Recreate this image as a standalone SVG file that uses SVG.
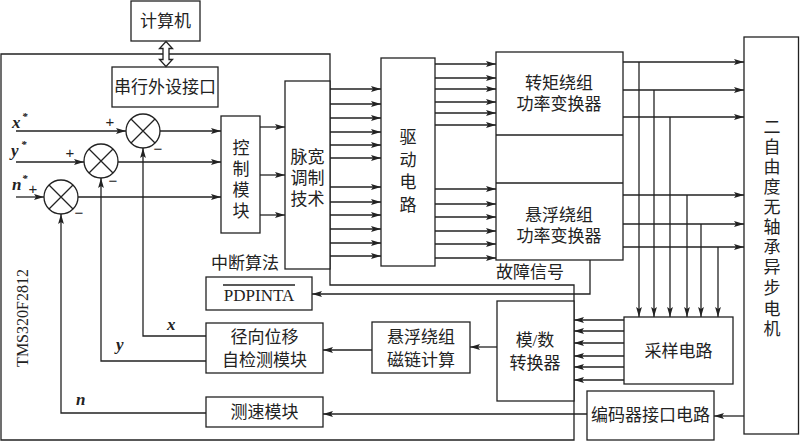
<svg xmlns="http://www.w3.org/2000/svg" width="800" height="442" viewBox="0 0 800 442">
<style>
.b{fill:#fff;stroke:#222;stroke-width:1.3}
.l{fill:none;stroke:#222;stroke-width:1.3}
.a{fill:none;stroke:#222;stroke-width:1.3;marker-end:url(#ah)}
.t{font-family:"Liberation Serif","Noto Sans CJK SC",serif;font-size:17px;fill:#222;text-anchor:middle;dominant-baseline:central}
.v{font-family:"Liberation Serif","Noto Sans CJK SC",serif;font-size:17px;fill:#222;text-anchor:middle;dominant-baseline:central}
.m{font-family:"Liberation Serif",serif;font-size:17px;font-weight:bold;font-style:italic;fill:#222}
.s{font-family:"Liberation Sans",sans-serif;font-size:15px;fill:#222;text-anchor:middle;dominant-baseline:central}
</style>
<defs>
<marker id="ah" markerWidth="10" markerHeight="7" refX="10" refY="3.5" orient="auto" markerUnits="userSpaceOnUse">
<path d="M0,0.6 L10,3.5 L0,6.4 L2,3.5z" fill="#222"/>
</marker>
</defs>
<rect width="800" height="442" fill="#fff"/>

<g id="tms">
<path class="l" d="M1,54 H330 V285 H574 V440 H1 Z"/>
<text class="t" transform="translate(22,318) rotate(-90)" style="font-size:16px">TMS320F2812</text>
</g>

<g id="computer">
<rect class="b" x="131" y="1" width="69" height="40"/>
<text class="t" x="165.5" y="21">计算机</text>
</g>

<g id="sci">
<rect class="b" x="112" y="67" width="106" height="40"/>
<text class="t" x="165" y="87">串行外设接口</text>
</g>

<g id="sum-x">
<circle class="b" cx="143" cy="131" r="17"/>
<path class="l" d="M131,119 L155,143 M155,119 L131,143"/>
</g>
<g id="sum-y">
<circle class="b" cx="101" cy="161" r="17"/>
<path class="l" d="M89,149 L113,173 M113,149 L89,173"/>
</g>
<g id="sum-n">
<circle class="b" cx="61" cy="197" r="17"/>
<path class="l" d="M49,185 L73,209 M73,185 L49,209"/>
</g>

<g id="control">
<rect class="b" x="221" y="116" width="39" height="117"/>
<text class="v" x="241"><tspan x="241" y="148">控</tspan><tspan x="241" y="169">制</tspan><tspan x="241" y="190">模</tspan><tspan x="241" y="211">块</tspan></text>
</g>

<g id="pwm">
<rect class="b" x="285" y="81" width="45" height="188"/>
<text class="t"><tspan x="307.5" y="157">脉宽</tspan><tspan x="307.5" y="178">调制</tspan><tspan x="307.5" y="199">技术</tspan></text>
</g>

<g id="drive">
<rect class="b" x="381" y="58" width="54" height="208"/>
<text class="v"><tspan x="408" y="137">驱</tspan><tspan x="408" y="159.5">动</tspan><tspan x="408" y="182">电</tspan><tspan x="408" y="204.5">路</tspan></text>
</g>

<g id="converters">
<rect class="b" x="496" y="52" width="127" height="208"/>
<path class="l" d="M496,135 H623 M496,183 H623"/>
<text class="t"><tspan x="559" y="83">转矩绕组</tspan><tspan x="559" y="104">功率变换器</tspan></text>
<text class="t"><tspan x="559" y="215">悬浮绕组</tspan><tspan x="559" y="236">功率变换器</tspan></text>
</g>

<g id="motor">
<rect class="b" x="744" y="37" width="54.5" height="397"/>
<text class="v"><tspan x="772" y="127">二</tspan><tspan x="772" y="147">自</tspan><tspan x="772" y="167">由</tspan><tspan x="772" y="187">度</tspan><tspan x="772" y="207">无</tspan><tspan x="772" y="227">轴</tspan><tspan x="772" y="247">承</tspan><tspan x="772" y="267">异</tspan><tspan x="772" y="288">步</tspan><tspan x="772" y="309">电</tspan><tspan x="772" y="329">机</tspan></text>
</g>

<g id="pdpinta">
<rect class="b" x="206" y="277" width="106" height="33"/>
<text class="t" x="259" y="295">PDPINTA</text>
<line class="l" x1="223" y1="285" x2="295" y2="285" stroke-width="1.2"/>
</g>

<g id="radial">
<rect class="b" x="206" y="323" width="117" height="50"/>
<text class="t"><tspan x="264.5" y="337">径向位移</tspan><tspan x="264.5" y="360">自检测模块</tspan></text>
</g>

<g id="speed">
<rect class="b" x="206" y="397" width="117" height="30"/>
<text class="t" x="264.5" y="412">测速模块</text>
</g>

<g id="flux">
<rect class="b" x="372" y="322" width="98" height="51"/>
<text class="t"><tspan x="421" y="337">悬浮绕组</tspan><tspan x="421" y="360">磁链计算</tspan></text>
</g>

<g id="adc">
<rect class="b" x="497" y="301" width="77" height="100"/>
<text class="t"><tspan x="535" y="340">模/数</tspan><tspan x="535" y="363">转换器</tspan></text>
</g>

<g id="sampling">
<rect class="b" x="624" y="317" width="109" height="67"/>
<text class="t" x="678.5" y="351">采样电路</text>
</g>

<g id="encoder">
<rect class="b" x="587" y="391" width="127" height="49"/>
<text class="t" x="650.5" y="415.5">编码器接口电路</text>
</g>

<g id="labels">
<text class="t" x="245" y="263">中断算法</text>
<text class="t" x="530" y="272">故障信号</text>
<text class="m" x="12" y="128">x</text><text class="m" x="22" y="120" style="font-size:11px">*</text>
<text class="m" x="11" y="156">y</text><text class="m" x="21" y="148" style="font-size:11px">*</text>
<text class="m" x="12" y="190">n</text><text class="m" x="22" y="182" style="font-size:11px">*</text>
<text class="s" x="110" y="121">+</text>
<text class="s" x="70" y="152">+</text>
<text class="s" x="33" y="188">+</text>
<text class="s" x="158" y="148">−</text>
<text class="s" x="113" y="180">−</text>
<text class="s" x="79" y="212">−</text>
<text class="m" x="167" y="330">x</text>
<text class="m" x="116" y="350">y</text>
<text class="m" x="76" y="405">n</text>
</g>

<g id="connectors">
<polygon class="b" points="166,41.5 172.5,48.5 169,48.5 169,59.5 172.5,59.5 166,66.5 159.5,59.5 163,59.5 163,48.5 159.5,48.5"/>
<path class="a" d="M16,131 H126"/>
<path class="a" d="M16,162 H84"/>
<path class="a" d="M16,197 H44"/>
<path class="a" d="M160,131 H221"/>
<path class="a" d="M118,162 H221"/>
<path class="a" d="M78,197 H221"/>
<path class="a" d="M260,127 H285"/>
<path class="a" d="M260,175 H285"/>
<path class="a" d="M260,215 H285"/>
<path class="a" d="M206,336 H143 V148"/>
<path class="a" d="M206,361 H101 V178"/>
<path class="a" d="M206,413 H61 V214"/>

<path class="a" d="M330,89 H381"/>
<path class="a" d="M330,104 H381"/>
<path class="a" d="M330,118 H381"/>
<path class="a" d="M330,132 H381"/>
<path class="a" d="M330,145 H381"/>
<path class="a" d="M330,158 H381"/>
<path class="a" d="M330,187 H381"/>
<path class="a" d="M330,202 H381"/>
<path class="a" d="M330,215 H381"/>
<path class="a" d="M330,229 H381"/>
<path class="a" d="M330,243 H381"/>
<path class="a" d="M330,256 H381"/>

<path class="a" d="M435,64 H496"/>
<path class="a" d="M435,78 H496"/>
<path class="a" d="M435,89 H496"/>
<path class="a" d="M435,102 H496"/>
<path class="a" d="M435,113 H496"/>
<path class="a" d="M435,125 H496"/>
<path class="a" d="M435,189 H496"/>
<path class="a" d="M435,204 H496"/>
<path class="a" d="M435,217 H496"/>
<path class="a" d="M435,231 H496"/>
<path class="a" d="M435,244 H496"/>
<path class="a" d="M435,258 H496"/>

<path class="a" d="M623,62 H744"/>
<path class="a" d="M623,90 H744"/>
<path class="a" d="M623,117 H744"/>
<path class="a" d="M623,195 H744"/>
<path class="a" d="M623,224 H744"/>
<path class="a" d="M623,247 H744"/>

<path class="a" d="M639,62 V317"/>
<path class="a" d="M654,90 V317"/>
<path class="a" d="M670,117 V317"/>
<path class="a" d="M687,195 V317"/>
<path class="a" d="M701,224 V317"/>
<path class="a" d="M718,247 V317"/>

<path class="a" d="M624,320 H574"/>
<path class="a" d="M624,331 H574"/>
<path class="a" d="M624,343 H574"/>
<path class="a" d="M624,356 H574"/>
<path class="a" d="M624,367 H574"/>
<path class="a" d="M624,380 H574"/>

<path class="a" d="M497,347 H470"/>
<path class="a" d="M372,350 H323"/>
<path class="a" d="M587,414 H323"/>
<path class="a" d="M744,416 H714"/>
<path class="a" d="M590,260 V294 H312"/>
</g>
</svg>
